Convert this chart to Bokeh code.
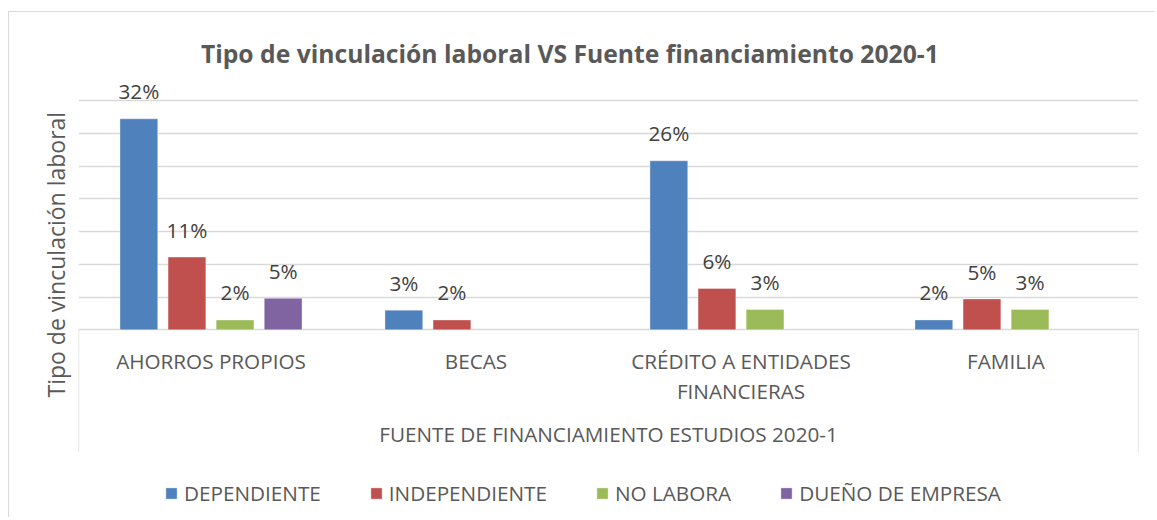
import textwrap
from bokeh.plotting import figure
from bokeh.models import (ColumnDataSource, FactorRange, Range1d, FixedTicker, Label,
                          Legend, LegendItem, Title)
from bokeh.transform import dodge
from bokeh.core.properties import value
from bokeh.embed import file_html
from bokeh.resources import INLINE

# ---------------- data ----------------
title_text = "Tipo de vinculación laboral VS Fuente financiamiento 2020-1"
y_title = "Tipo de vinculación laboral"
x_title = "FUENTE DE FINANCIAMIENTO ESTUDIOS 2020-1"
categories = ["AHORROS PROPIOS", "BECAS", "CRÉDITO A ENTIDADES FINANCIERAS", "FAMILIA"]
series_names = ["DEPENDIENTE", "INDEPENDIENTE", "NO LABORA", "DUEÑO DE EMPRESA"]
dependiente = [32.2, 3.0, 25.8, 1.5]
independiente = [11.1, 1.5, 6.3, 4.7]
no_labora = [1.5, None, 3.1, 3.1]
dueno_empresa = [4.8, None, None, None]
grid_ticks = [0, 5, 10, 15, 20, 25, 30, 35]
colors = ["#4F81BD", "#C0504D", "#9BBB59", "#8064A2"]

FONT = "Open Sans"
TXT = "#595959"
GRID = "#D9D9D9"
FS = "20.7px"

# page geometry: canvas starts at (9, 12) because of CSS margin + 1px border
CANVAS_TOP = 12
CANVAS_H = 506
px_per_unit = 229.3 / 35.0
y_end = (329.3 - CANVAS_TOP) / px_per_unit
y_start = -(CANVAS_TOP + CANVAS_H - 329.3) / px_per_unit

p = figure(width=1146, height=CANVAS_H, output_backend="svg", toolbar_location=None,
           x_range=FactorRange(factors=categories, range_padding=0),
           y_range=Range1d(y_start, y_end),
           min_border_left=69, min_border_right=17, min_border_top=0, min_border_bottom=0)
p.margin = (11, 0, 0, 8)
p.styles = {"border-top": f"1px solid {GRID}", "border-left": f"1px solid {GRID}"}
p.outline_line_color = None
p.xaxis.visible = False
p.yaxis.visible = False
p.xgrid.visible = False
p.ygrid.ticker = FixedTicker(ticks=grid_ticks)
p.ygrid.grid_line_color = GRID
p.ygrid.grid_line_width = 1.3

series_vals = [dependiente, independiente, no_labora, dueno_empresa]
bar_w = 0.1425
step = 0.1815
offsets = [-1.5 * step, -0.5 * step, 0.5 * step, 1.5 * step]
legend_items = []
for name, vals, col, off in zip(series_names, series_vals, colors, offsets):
    cs = [c for c, v in zip(categories, vals) if v is not None]
    vs = [v for v in vals if v is not None]
    src = ColumnDataSource(dict(cat=cs, val=vs, lab=[f"{v:.0f}%" for v in vs]))
    r = p.vbar(x=dodge("cat", off, range=p.x_range), top="val", width=bar_w, source=src,
               fill_color=col, line_color="white", line_alpha=0.35, line_width=1)
    p.text(x=dodge("cat", off, range=p.x_range), y="val", text="lab", source=src,
           text_align="center", text_baseline="alphabetic", y_offset=-27.5,
           text_font=value(FONT), text_font_size=FS, text_color="#404040")
    legend_items.append(LegendItem(label=name, renderers=[r]))

# category labels
cat_src = ColumnDataSource(dict(cat=categories, lab=[textwrap.fill(c, 20) for c in categories],
                                y=[0] * len(categories)))
p.text(x="cat", y="y", text="lab", source=cat_src, text_align="center", text_baseline="top",
       y_offset=17.5, text_font=value(FONT), text_font_size=FS, text_color=TXT,
       text_line_height=1.07)

# outer group box of the category axis
box_bottom = -(452 - 329.3) / px_per_unit
left_src = ColumnDataSource(dict(cat=[categories[0]], y0=[0], y1=[box_bottom]))
right_src = ColumnDataSource(dict(cat=[categories[-1]], y0=[0], y1=[box_bottom]))
p.segment(x0=dodge("cat", -0.5, range=p.x_range), x1=dodge("cat", -0.5, range=p.x_range),
          y0="y0", y1="y1", source=left_src, line_color=GRID, line_width=1.3)
p.segment(x0=dodge("cat", 0.5, range=p.x_range), x1=dodge("cat", 0.5, range=p.x_range),
          y0="y0", y1="y1", source=right_src, line_color=GRID, line_width=1.3)

grp_src = ColumnDataSource(dict(cat=[categories[1]], lab=[x_title], y=[0]))
p.text(x=dodge("cat", 0.5, range=p.x_range), y="y", text="lab", source=grp_src,
       text_align="center", text_baseline="middle", y_offset=104,
       text_font=value(FONT), text_font_size=FS, text_color=TXT)

# title
p.add_layout(Label(x=491.4, y=(329.3 - 53.3) / px_per_unit, x_units="screen", y_units="data",
                   text=title_text, text_align="center", text_baseline="alphabetic",
                   text_font=FONT, text_font_size="24.7px", text_font_style="bold",
                   text_color=TXT))

# y axis title (as a left-side title so it can be positioned along the side)
p.add_layout(Title(text=y_title, align="left", offset=121, vertical_align="bottom",
                   standoff=14, text_font=FONT, text_font_size="23px",
                   text_font_style="normal", text_color=TXT), "left")

legend = Legend(items=legend_items, orientation="horizontal", location=(86, 11.5),
                margin=0, padding=0, spacing=48, glyph_width=14, glyph_height=14,
                label_standoff=6, border_line_color=None, background_fill_alpha=0,
                label_text_font=FONT, label_text_font_size=FS, label_text_color=TXT)
p.add_layout(legend, "center")

open("out.html", "w").write(file_html(p, INLINE))
